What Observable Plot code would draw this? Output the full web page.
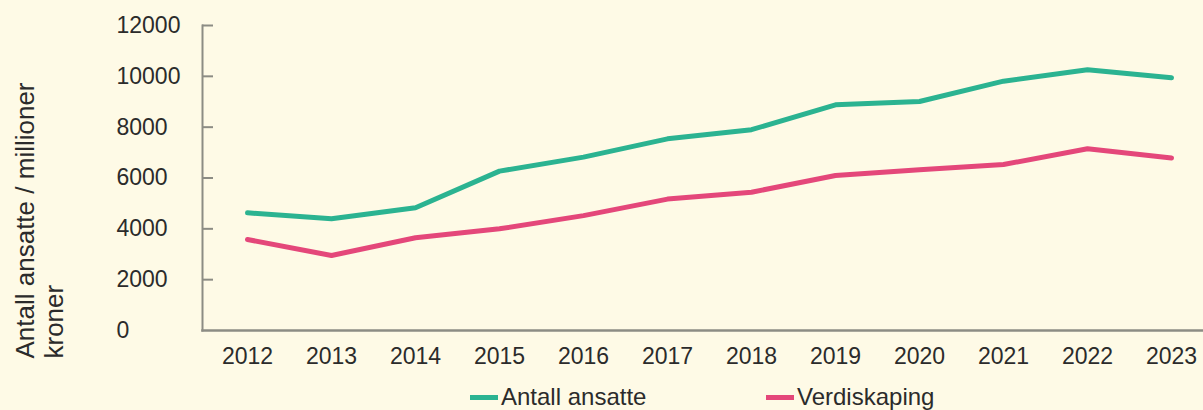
<!DOCTYPE html>
<html><head><meta charset="utf-8">
<script src="https://cdn.jsdelivr.net/npm/d3@7"></script>
<script src="https://cdn.jsdelivr.net/npm/@observablehq/plot@0.6"></script>
<style>
html,body{margin:0;padding:0;background:#fefae6;}
#wrap{position:relative;width:1203px;height:410px;overflow:hidden;font-family:"Liberation Sans",Arial,sans-serif;color:#2b2b2b;}
#chart{position:absolute;left:0;top:0;}
#legend{position:absolute;left:0;top:382px;width:1203px;height:30px;font-size:24px;}
.item{position:absolute;top:0;height:30px;display:flex;align-items:center;white-space:nowrap;}
.sw{width:28px;height:5px;margin-right:3px;}
</style></head><body><div id="wrap"><div id="chart"></div><div id="legend"></div></div>
<script>
const years = ["2012","2013","2014","2015","2016","2017","2018","2019","2020","2021","2022","2023"];
const antallAnsatte = [4630, 4400, 4830, 6270, 6820, 7540, 7900, 8880, 9010, 9810, 10260, 9940];
const verdiskaping = [3580, 2950, 3650, 4000, 4520, 5170, 5440, 6100, 6320, 6530, 7150, 6790];
const seriesNames = ["Antall ansatte", "Verdiskaping"];
const seriesColors = ["#2bb391", "#e4477a"];
const yTicks = [0, 2000, 4000, 6000, 8000, 10000, 12000];
const yTitle = "Antall ansatte / millioner\nkroner";

const rows = [
  ...years.map((y, i) => ({year: y, value: antallAnsatte[i], series: seriesNames[0]})),
  ...years.map((y, i) => ({year: y, value: verdiskaping[i], series: seriesNames[1]}))
];

const axisColor = "#8c8c84";
const textColor = "#2b2b2b";

const chart = Plot.plot({
  width: 1203,
  height: 380,
  marginTop: 25,
  marginBottom: 50,
  marginLeft: 202,
  marginRight: 0,
  style: {background: "transparent", fontFamily: "'Liberation Sans', Arial, sans-serif", fontSize: "23px", color: textColor},
  x: {type: "point", domain: years, range: [202, 1216], padding: 0.5, label: null},
  y: {domain: [0, 12000], label: null},
  color: {domain: seriesNames, range: seriesColors},
  marks: [
    Plot.axisX({tickSize: 0, tickPadding: 17, fontSize: 23, label: null, fill: textColor}),
    Plot.axisY({ticks: yTicks, tickFormat: d => String(d), tickSize: 0, tickPadding: 86, textAnchor: "start", fontSize: 23, label: null, fill: textColor}),
    Plot.tickY(yTicks.filter(d => d > 0), {y: d => d, stroke: axisColor, strokeWidth: 2, insetRight: 990}),
    Plot.frame({anchor: "left", stroke: axisColor, strokeWidth: 2}),
    Plot.frame({anchor: "bottom", stroke: axisColor, strokeWidth: 2.5}),
    Plot.line(rows, {x: "year", y: "value", z: "series", stroke: "series", strokeWidth: 5, strokeLinejoin: "round"}),
    Plot.text([yTitle], {text: d => d, frameAnchor: "bottom-left", rotate: -90, textAnchor: "start", lineAnchor: "middle", lineHeight: 1.12, fontSize: 26, dx: -163.5, dy: 28, fill: textColor})
  ]
});
document.getElementById("chart").appendChild(chart);

const legend = document.getElementById("legend");
const legendLeft = [470, 766];
seriesNames.forEach((name, i) => {
  const item = document.createElement("div");
  item.className = "item";
  item.style.left = legendLeft[i] + "px";
  const sw = document.createElement("span");
  sw.className = "sw";
  sw.style.background = seriesColors[i];
  const label = document.createElement("span");
  label.textContent = name;
  item.appendChild(sw);
  item.appendChild(label);
  legend.appendChild(item);
});
</script>
</body></html>
